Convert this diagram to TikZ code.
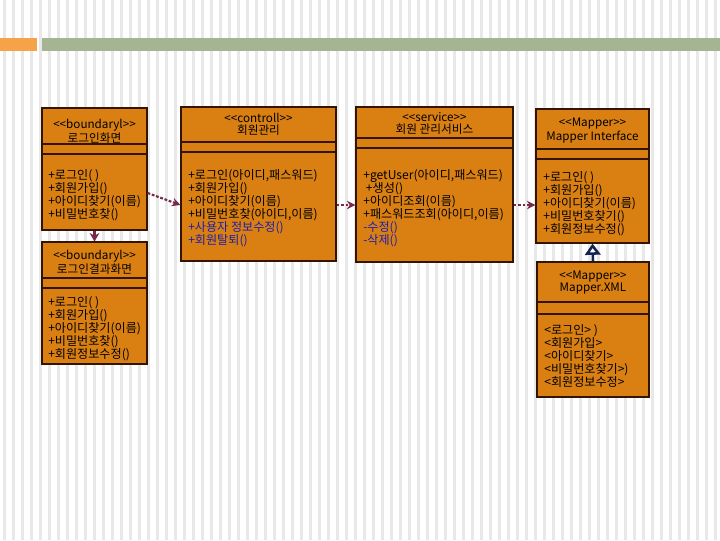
\documentclass[tikz,border=0pt]{standalone}
\usepackage{fontspec}
\setmainfont{Noto Sans CJK KR}
\usetikzlibrary{arrows.meta}

\definecolor{boxfill}{RGB}{218,128,18}
\definecolor{boxline}{RGB}{50,20,0}
\definecolor{deparrow}{RGB}{120,40,75}
\definecolor{navyline}{RGB}{20,35,85}
\definecolor{bluetext}{RGB}{30,30,170}
\definecolor{barorange}{RGB}{245,162,72}
\definecolor{bargreen}{RGB}{165,180,146}
\definecolor{stripe}{RGB}{232,232,232}

\newcommand{\stereo}[1]{<\kern0pt<#1>\kern0pt>}

\begin{document}
\begin{tikzpicture}[x=0.025cm,y=-0.025cm,
    umlbox/.style={rectangle,draw=boxline,fill=boxfill,line width=0.8pt,inner sep=0pt},
    title/.style={align=center,inner sep=0pt,font=\fontsize{8.3}{8.6}\selectfont},
    methods/.style={align=left,anchor=north west,inner sep=0pt,font=\fontsize{8.6}{9.3}\selectfont},
    dep/.style={deparrow,line width=1.5pt,dash pattern=on 2pt off 1.2pt,-{Stealth[length=6pt,width=6pt]}}
  ]

      \useasboundingbox (0,0) rectangle (720,540);
      \fill[white] (0,0) rectangle (720,540);
      \foreach \i in {0,...,80}
        \fill[stripe] (\i*9+3,0) rectangle (\i*9+6,540);

      % header bars
      \fill[barorange] (0,38) rectangle (37,51);
      \fill[bargreen] (42,38) rectangle (720,51);

      % boundary: login screen
      \node[umlbox,minimum width=2.625cm,minimum height=3.05cm] (login) at (94.5,169){};
      \draw[boxline,line width=0.8pt] (login.west |- 0,144) -- (login.east |- 0,144);
      \draw[boxline,line width=0.8pt] (login.west |- 0,154) -- (login.east |- 0,154);
      \node[title] (login-t) at (94.5,131.5){\stereo{boundaryl}\\로그인화면};
      \node[methods] (login-m) at (48,169){+로그인( )\\+회원가입()\\+아이디찾기(이름)\\+비밀번호찾()};

      % control
      \node[umlbox,minimum width=3.875cm,minimum height=3.85cm] (ctrl) at (258.5,184){};
      \draw[boxline,line width=0.8pt] (ctrl.west |- 0,142) -- (ctrl.east |- 0,142);
      \draw[boxline,line width=0.8pt] (ctrl.west |- 0,152) -- (ctrl.east |- 0,152);
      \node[title] (ctrl-t) at (258.5,124.5){\stereo{controll}\\회원관리};
      \node[methods] (ctrl-m) at (188,169){+로그인(아이디,패스워드)\\+회원가입()\\+아이디찾기(이름)\\+비밀번호찾(아이디,이름)\\
        \textcolor{bluetext}{+사용자 정보수정()}\\\textcolor{bluetext}{+회원탈퇴()}};

      % service
      \node[umlbox,minimum width=3.925cm,minimum height=3.875cm] (svc) at (434.5,184.5){};
      \draw[boxline,line width=0.8pt] (svc.west |- 0,138) -- (svc.east |- 0,138);
      \draw[boxline,line width=1.6pt] (svc.west |- 0,148) -- (svc.east |- 0,148);
      \node[title] (svc-t) at (434.5,123){\stereo{service}\\회원 관리서비스};
      \node[methods] (svc-m) at (363,169){+getUser(아이디,패스워드)\\\ +생성()\\+아이디조회(이름)\\+패스워드조회(아이디,이름)\\
        \textcolor{bluetext}{-수정()}\\\textcolor{bluetext}{-삭제()}};

      % mapper interface
      \node[umlbox,minimum width=2.825cm,minimum height=3.35cm] (mif) at (592.5,176){};
      \draw[boxline,line width=0.8pt] (mif.west |- 0,149) -- (mif.east |- 0,149);
      \draw[boxline,line width=0.8pt] (mif.west |- 0,159) -- (mif.east |- 0,159);
      \node[title] (mif-t) at (592.5,130.5){\stereo{Mapper}\\Mapper Interface};
      \node[methods] (mif-m) at (543,171){+로그인( )\\+회원가입()\\+아이디찾기(이름)\\+비밀번호찾기()\\+회원정보수정()};

      % boundary: login result screen
      \node[umlbox,minimum width=2.625cm,minimum height=3.05cm] (result) at (94.5,303){};
      \draw[boxline,line width=0.8pt] (result.west |- 0,278) -- (result.east |- 0,278);
      \draw[boxline,line width=0.8pt] (result.west |- 0,288) -- (result.east |- 0,288);
      \node[title] (result-t) at (94.5,262.5){\stereo{boundaryl}\\로그인결과화면};
      \node[methods] (result-m) at (48,296){+로그인( )\\+회원가입()\\+아이디찾기(이름)\\+비밀번호찾()\\+회원정보수정()};

      % mapper xml
      \node[umlbox,minimum width=2.8cm,minimum height=3.375cm] (xml) at (593,329.5){};
      \draw[boxline,line width=0.8pt] (xml.west |- 0,302) -- (xml.east |- 0,302);
      \draw[boxline,line width=0.8pt] (xml.west |- 0,314) -- (xml.east |- 0,314);
      \node[title] (xml-t) at (593,283){\stereo{Mapper}\\Mapper.XML};
      \node[methods] (xml-m) at (544,324){<로그인> )\\<회원가입>\\<아이디찾기>\\<비밀번호찾기>)\\<회원정보수정>};

      \draw[dep] (login.east |- 0,193) -- (ctrl.west |- 0,205);
      \draw[dep] (ctrl.east |- 0,205) -- (svc.west |- 0,205);
      \draw[dep] (svc.east |- 0,205) -- (mif.west |- 0,205);
      \draw[deparrow,line width=1.5pt,-{Stealth[length=6pt,width=7pt]}] (login.south) -- (result.north);
      \draw[navyline,line width=1.8pt,-{Triangle[open,length=8pt,width=11pt]}] (xml.north) -- (mif.south);

    \end{tikzpicture}
\end{document}
